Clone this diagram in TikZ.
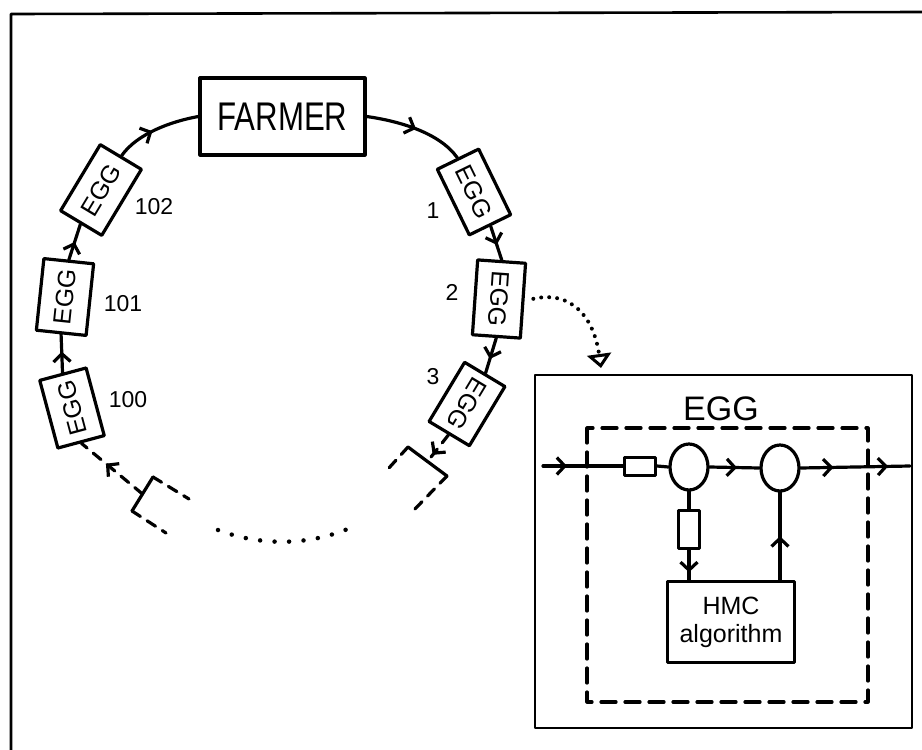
\documentclass[tikz,border=0pt]{standalone}
\usepackage{graphicx}
\usepackage{fontspec}
\setmainfont{Liberation Sans}
\usetikzlibrary{arrows.meta,decorations.markings,shapes.geometric}
\tikzset{
  box/.style={draw, line width=3.2pt, rectangle, inner sep=0pt},
  egg/.style={box, font=\fontsize{25}{27}\selectfont},
  conn/.style={line width=3.2pt},
  dashconn/.style={line width=3.2pt, dash pattern=on 10pt off 8pt},
  barb/.tip={Straight Barb[length=8pt,width=17pt]},
  midarrow/.style={postaction={decorate}, decoration={markings, mark=at position #1 with {\arrow{barb}}}},
  twoarrows/.style 2 args={postaction={decorate}, decoration={markings, mark=at position #1 with {\arrow{barb}}, mark=at position #2 with {\arrow{barb}}}},
  lbl/.style={font=\fontsize{23}{25}\selectfont, inner sep=0pt},
}
\begin{document}
\begin{tikzpicture}[x=1pt, y=-1pt, line join=round, line cap=round]
\useasboundingbox (0,0) rectangle (922,750);
% frame
\draw[line width=2.6pt] (11,750) -- (11,14) -- (922,12);

% ring
\node[box, minimum width=165pt, minimum height=77pt, font=\fontsize{40}{42}\selectfont] (farmer) at (282.5,116.5) {\scalebox{0.78}[1]{FARMER}};
\node[egg, rotate=-64, minimum width=73pt, minimum height=46pt] (e1) at (474,192) {EGG};
\node[egg, rotate=-94, minimum width=75pt, minimum height=48pt] (e2) at (499,299) {EGG};
\node[egg, rotate=-121, minimum width=69pt, minimum height=47pt] (e3) at (467,404) {EGG};
\node[egg, rotate=59, minimum width=77pt, minimum height=48pt] (e102) at (101,190) {EGG};
\node[egg, rotate=84, minimum width=72pt, minimum height=50pt] (e101) at (65,297) {EGG};
\node[egg, rotate=105, minimum width=70pt, minimum height=48pt] (e100) at (72,408) {EGG};

\node[lbl] (n1) at (433,211) {1};
\node[lbl] (n2) at (452,292) {2};
\node[lbl] (n3) at (433,377) {3};
\node[lbl] (n102) at (154,207) {102};
\node[lbl] (n101) at (123,304) {101};
\node[lbl] (n100) at (128,400) {100};

\draw[conn, midarrow=0.5] (farmer.east) to[out=-8, in=125, looseness=0.8] (e1.west);
\draw[conn, midarrow=0.55] (e1.east) -- (e2.west);
\draw[conn, midarrow=0.6] (e2.east) -- (e3.west);
\draw[conn, midarrow=0.55] (e100.east) -- (e101.west);
\draw[conn, midarrow=0.5] (e101.east) -- (e102.west);
\draw[conn, midarrow=0.45] (e102.east) to[out=55, in=190, looseness=0.8] (farmer.west);

% partial box lower right
\coordinate (rbA) at (408,447);
\coordinate (rbB) at (447,476);
\coordinate (rb) at (427.5,461.5);
\draw[conn] (rbA) -- (rbB);
\draw[dashconn] (rbA) -- (388,469);
\draw[dashconn] (rbB) -- (412,512);
\draw[dashconn, midarrow=0.75] (e3.east) -- (rb);

% partial box lower left
\coordinate (lbA) at (153,477);
\coordinate (lbB) at (132,511);
\coordinate (lb) at (142.5,494);
\draw[conn] (lbA) -- (lbB);
\draw[dashconn] (lbA) -- (189,499);
\draw[dashconn] (lbB) -- (166,533);
\draw[dashconn, midarrow=0.6] (lb) -- (e100.west);

% dotted arc
\draw[line width=4.5pt, line cap=round, dash pattern=on 0pt off 14.5pt] (218,530) .. controls (260,546) and (308,546) .. (350,528);

% dotted arrow to inset
\coordinate (tip) at (601,368);
\draw[line width=4pt, line cap=round, dash pattern=on 0pt off 8pt, shorten <=9pt,
  -{Triangle[open, length=14pt, width=24pt, line width=3pt]}]
  (e2.north) .. controls (572,290) and (594,318) .. (tip);

% inset
\draw[line width=2.8pt] (535,375) rectangle (912,728);
\draw[line width=3.2pt, dash pattern=on 15pt off 9pt] (587,428) rectangle (868,702);
\node[font=\fontsize{34}{36}\selectfont, inner sep=0pt] (egglabel) at (721,409) {EGG};

\coordinate (in) at (543,466);
\coordinate (out) at (910,466);
\node[box, line width=3pt, minimum width=31pt, minimum height=18pt] (r1) at (640,466) {};
\node[draw, ellipse, line width=3.2pt, minimum width=38pt, minimum height=46pt, inner sep=0pt] (c1) at (689,467) {};
\node[draw, ellipse, line width=3.2pt, minimum width=38pt, minimum height=46pt, inner sep=0pt] (c2) at (780,468) {};
\node[box, line width=3pt, minimum width=21pt, minimum height=38pt] (r2) at (689,529) {};
\node[box, minimum width=127pt, minimum height=81pt, align=center, font=\fontsize{25}{28}\selectfont] (hmc) at (731,622) {HMC\\algorithm};

\draw[conn, midarrow=0.3] (in) -- (r1.west);
\draw[conn] (r1.east) -- (c1.west);
\draw[conn, midarrow=0.55] (c1.east) -- (c2.west);
\draw[conn, twoarrows={0.3}{0.8}] (c2.east) -- (out);
\draw[conn] (c1.south) -- (r2.north);
\draw[conn, midarrow=0.75] (r2.south) -- (r2.south |- hmc.north);
\draw[conn, midarrow=0.5] (hmc.north -| c2.south) -- (c2.south);
\end{tikzpicture}
\end{document}
